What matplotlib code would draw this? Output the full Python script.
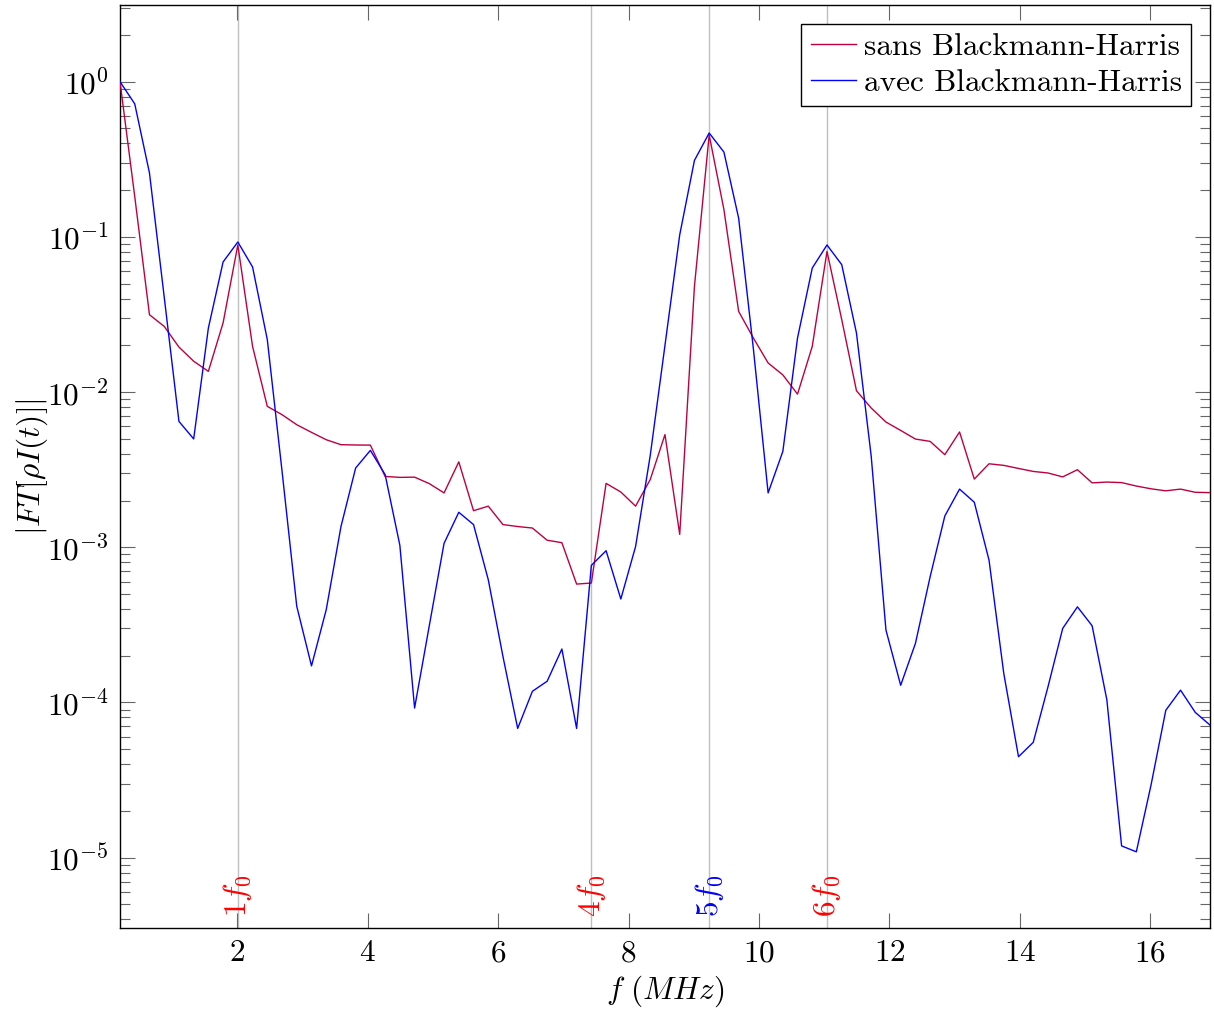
import matplotlib
matplotlib.use("Agg")
import matplotlib.pyplot as plt
import matplotlib.transforms as mtransforms
from matplotlib.ticker import LogLocator, NullFormatter

# frequency grid (MHz)
freq = [0.200, 0.426, 0.652, 0.878, 1.104, 1.330, 1.555, 1.781, 2.007, 2.233,
        2.459, 2.685, 2.911, 3.137, 3.363, 3.589, 3.814, 4.040, 4.266, 4.492,
        4.718, 4.944, 5.170, 5.396, 5.622, 5.848, 6.073, 6.299, 6.525, 6.751,
        6.977, 7.203, 7.429, 7.655, 7.881, 8.107, 8.332, 8.558, 8.784, 9.010,
        9.236, 9.462, 9.688, 9.914, 10.140, 10.366, 10.591, 10.817, 11.043, 11.269,
        11.495, 11.721, 11.947, 12.173, 12.399, 12.625, 12.850, 13.076, 13.302, 13.528,
        13.754, 13.980, 14.206, 14.432, 14.658, 14.884, 15.109, 15.335, 15.561, 15.787,
        16.013, 16.239, 16.465, 16.691, 16.917]

# |FT| without window
sans_bh = [1.0, 0.182, 0.0315, 0.0265, 0.0195, 0.0158, 0.0136, 0.0279, 0.0887, 0.0197,
           8.09e-3, 7.15e-3, 6.16e-3, 5.50e-3, 4.93e-3, 4.58e-3, 4.56e-3, 4.55e-3, 2.86e-3, 2.82e-3,
           2.83e-3, 2.57e-3, 2.24e-3, 3.55e-3, 1.72e-3, 1.84e-3, 1.40e-3, 1.36e-3, 1.33e-3, 1.11e-3,
           1.07e-3, 5.79e-4, 5.88e-4, 2.58e-3, 2.27e-3, 1.84e-3, 2.73e-3, 5.32e-3, 1.21e-3, 0.048,
           0.454, 0.150, 0.0331, 0.0223, 0.0154, 0.0129, 9.7e-3, 0.0197, 0.0806, 0.0293,
           0.0102, 7.89e-3, 6.41e-3, 5.66e-3, 4.98e-3, 4.81e-3, 3.95e-3, 5.53e-3, 2.75e-3, 3.45e-3,
           3.37e-3, 3.22e-3, 3.08e-3, 3.01e-3, 2.84e-3, 3.16e-3, 2.60e-3, 2.63e-3, 2.61e-3, 2.48e-3,
           2.38e-3, 2.31e-3, 2.37e-3, 2.26e-3, 2.25e-3]

# |FT| with Blackman-Harris window
avec_bh = [1.0, 0.72, 0.258, 0.041, 6.47e-3, 4.99e-3, 0.0258, 0.0689, 0.0927, 0.064,
           0.0218, 3.1e-3, 4.16e-4, 1.72e-4, 3.96e-4, 1.36e-3, 3.24e-3, 4.21e-3, 2.94e-3, 1.03e-3,
           9.2e-5, 3.13e-4, 1.06e-3, 1.68e-3, 1.40e-3, 6.18e-4, 1.98e-4, 6.8e-5, 1.18e-4, 1.37e-4,
           2.21e-4, 6.8e-5, 7.64e-4, 9.5e-4, 4.64e-4, 1.01e-3, 3.9e-3, 0.020, 0.103, 0.311,
           0.467, 0.352, 0.132, 0.019, 2.24e-3, 4.15e-3, 0.0223, 0.063, 0.0887, 0.0662,
           0.024, 3.86e-3, 2.93e-4, 1.29e-4, 2.40e-4, 6.46e-4, 1.59e-3, 2.37e-3, 1.95e-3, 8.26e-4,
           1.54e-4, 4.47e-5, 5.53e-5, 1.26e-4, 3.0e-4, 4.13e-4, 3.12e-4, 1.04e-4, 1.19e-5, 1.09e-5,
           2.94e-5, 8.9e-5, 1.20e-4, 8.63e-5, 7.15e-5]

# harmonic markers
harm_freq = [2.007, 7.429, 9.236, 11.043]
harm_label = [r"$1f_0$", r"$4f_0$", r"$5f_0$", r"$6f_0$"]
harm_color = ["#FF0000", "#FF0000", "#0000FF", "#FF0000"]

plt.rcParams["font.family"] = "serif"
plt.rcParams["font.serif"] = ["cmr10", "DejaVu Serif"]
plt.rcParams["mathtext.fontset"] = "cm"
plt.rcParams["axes.unicode_minus"] = False
plt.rcParams["axes.formatter.use_mathtext"] = True

fs = 22.5
fig = plt.figure(figsize=(12.14, 10.14), dpi=100)
ax = fig.add_axes([120 / 1214, 1 - 928 / 1014, 1090 / 1214, 923 / 1014])

red = "#BF0040"
blue = "#0000FF"

for xv in harm_freq:
    ax.axvline(xv, color="#bfbfbf", lw=1.0, zorder=1)

ax.plot(freq, sans_bh, color=red, lw=1.0, label="sans Blackmann-Harris", zorder=3)
ax.plot(freq, avec_bh, color=blue, lw=1.0, label="avec Blackmann-Harris", zorder=3)

ax.set_yscale("log")
ax.set_xlim(freq[0], freq[-1])
ax.set_ylim(3.52e-6, 3.12)

trans = mtransforms.blended_transform_factory(ax.transData, ax.transAxes)
for xv, lab, col in zip(harm_freq, harm_label, harm_color):
    ax.text(xv, 0.012, lab, transform=trans, rotation=90, ha="center", va="bottom",
            color=col, fontsize=fs, zorder=4)

ax.set_xticks([2, 4, 6, 8, 10, 12, 14, 16])
ax.yaxis.set_major_locator(LogLocator(base=10, numticks=20))
ax.yaxis.set_minor_locator(LogLocator(base=10, subs=range(2, 10), numticks=20))
ax.yaxis.set_minor_formatter(NullFormatter())

ax.tick_params(which="both", direction="in", top=True, right=True, color="#666666",
               labelsize=fs, width=0.8)
ax.tick_params(which="major", length=11)
ax.tick_params(which="minor", length=7)
ax.tick_params(axis="y", pad=8)
ax.tick_params(axis="x", pad=8)

for sp in ax.spines.values():
    sp.set_linewidth(1.0)
    sp.set_color("black")

ax.set_xlabel(r"$f\ (MHz)$", fontsize=fs, labelpad=5)
ax.set_ylabel(r"$|FT[\rho I(t)]|$", fontsize=fs, labelpad=-2)

leg = ax.legend(loc="upper right", fontsize=fs, frameon=True, fancybox=False,
                framealpha=1, edgecolor="black", borderaxespad=0.6,
                handlelength=1.45, handletextpad=0.25, borderpad=0.3, labelspacing=0.25)
leg.get_frame().set_linewidth(1.0)

fig.savefig("out.png", dpi=100)
